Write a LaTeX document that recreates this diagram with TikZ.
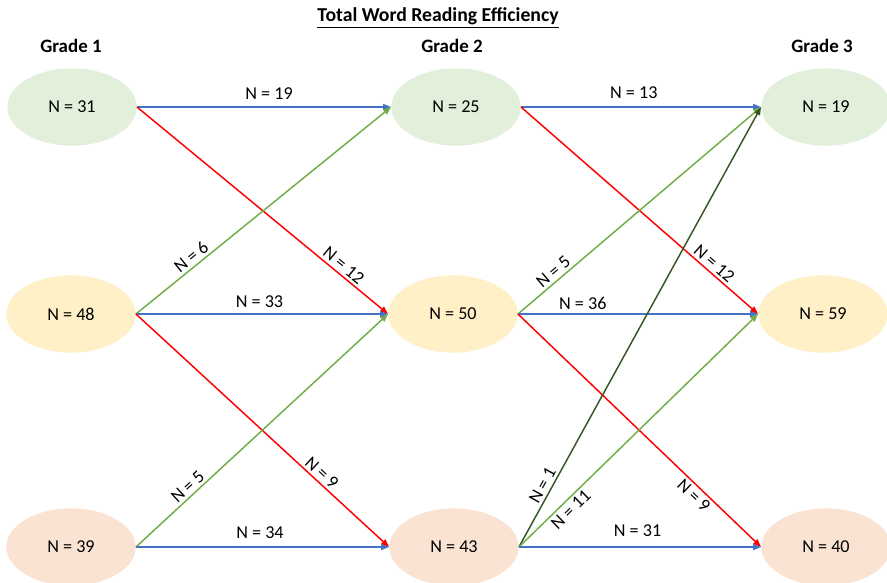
\documentclass[tikz,border=0pt]{standalone}
\usepackage{fontspec}
\setmainfont{Carlito}
\usetikzlibrary{shapes.geometric,arrows.meta}
\definecolor{cblue}{HTML}{4472C4}
\definecolor{cred}{HTML}{FF0000}
\definecolor{cgreen}{HTML}{70AD47}
\definecolor{cdark}{HTML}{375623}
\definecolor{fgreen}{HTML}{E2EFDA}
\definecolor{fyellow}{HTML}{FFF0C8}
\definecolor{fpeach}{HTML}{FBE3D3}
\begin{document}
\begin{tikzpicture}[x=0.75pt,y=-0.75pt,
  state/.style={ellipse, minimum width=97pt, minimum height=58pt, inner sep=0pt, font=\fontsize{13.6}{15}\selectfont},
  lab/.style={font=\fontsize{13.6}{15}\selectfont, inner sep=2pt},
  hdr/.style={font=\bfseries\fontsize{14.2}{16}\selectfont},
  flow/.style={line width=1.1pt, -{Triangle[length=6pt,width=4.5pt]}}
]
\useasboundingbox (0,0) rectangle (887,582);
\node[font=\bfseries\fontsize{14.8}{17}\selectfont] (title) at (438,18) {\underline{Total Word Reading Efficiency}};
\node[hdr] (g1) at (71,46) {Grade 1};
\node[hdr] (g2) at (452,46) {Grade 2};
\node[hdr] (g3) at (822,46) {Grade 3};

\node[state, fill=fgreen] (a1) at (72,107) {N = 31};
\node[state, fill=fyellow] (a2) at (71,314) {N = 48};
\node[state, fill=fpeach] (a3) at (71,547) {N = 39};
\node[state, fill=fgreen] (b1) at (456,107) {N = 25};
\node[state, fill=fyellow] (b2) at (453,314) {N = 50};
\node[state, fill=fpeach] (b3) at (454,547) {N = 43};
\node[state, fill=fgreen] (c1) at (826,107) {N = 19};
\node[state, fill=fyellow] (c2) at (823,314) {N = 59};
\node[state, fill=fpeach] (c3) at (826,547) {N = 40};

% Grade 1 -> Grade 2
\draw[flow, cblue] (a1.east) -- node[lab, text=black, above=3pt, pos=0.52] {N = 19} (b1.west);
\draw[flow, cred] (a1.east) -- node[lab, text=black, sloped, above, pos=0.80] {N = 12} (b2.west);
\draw[flow, cgreen] (a2.east) -- node[lab, text=black, sloped, above, pos=0.24] {N = 6} (b1.west);
\draw[flow, cblue] (a2.east) -- node[lab, text=black, above=2pt, pos=0.49] {N = 33} (b2.west);
\draw[flow, cred] (a2.east) -- node[lab, text=black, sloped, above, pos=0.71] {N = 9} (b3.west);
\draw[flow, cgreen] (a3.east) -- node[lab, text=black, sloped, above, pos=0.23] {N = 5} (b2.west);
\draw[flow, cblue] (a3.east) -- node[lab, text=black, above=4pt, pos=0.49] {N = 34} (b3.west);

% Grade 2 -> Grade 3
\draw[flow, cblue] (b1.east) -- node[lab, text=black, above=4pt, pos=0.47] {N = 13} (c1.west);
\draw[flow, cred] (b1.east) -- node[lab, text=black, sloped, above, pos=0.79] {N = 12} (c2.west);
\draw[flow, cgreen] (b2.east) -- node[lab, text=black, sloped, above, pos=0.17] {N = 5} (c1.west);
\draw[flow, cblue] (b2.east) -- node[lab, text=black, above=1pt, pos=0.27] {N = 36} (c2.west);
\draw[flow, cred] (b2.east) -- node[lab, text=black, sloped, below, pos=0.75] {N = 9} (c3.west);
\draw[flow, cdark] (b3.east) -- node[lab, text=black, sloped, above, pos=0.13] {N = 1} (c1.west);
\draw[flow, cgreen] (b3.east) -- node[lab, text=black, sloped, below, pos=0.19] {N = 11} (c2.west);
\draw[flow, cblue] (b3.east) -- node[lab, text=black, above=5pt, pos=0.49] {N = 31} (c3.west);
\end{tikzpicture}
\end{document}
